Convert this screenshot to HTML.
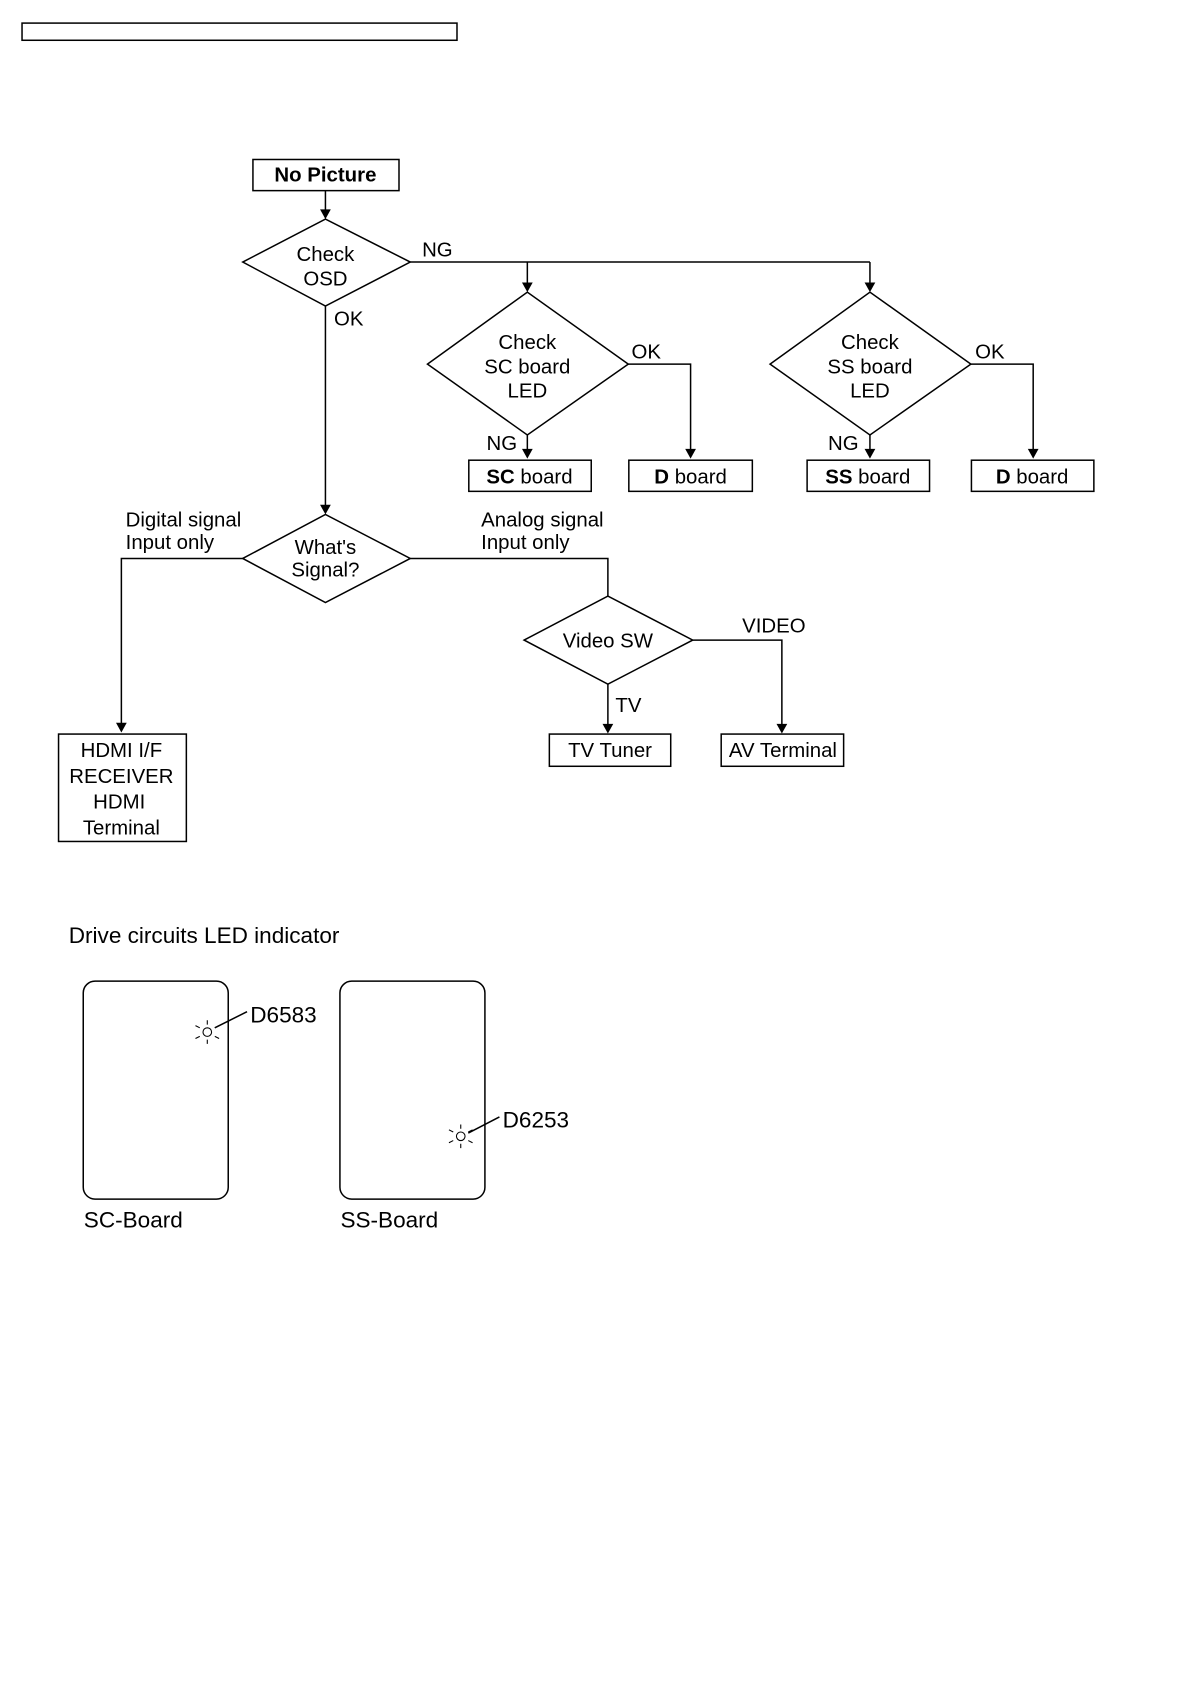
<!DOCTYPE html>
<html><head><meta charset="utf-8"><style>
html,body{margin:0;padding:0;background:#fff;}
svg{display:block;}
text{font-family:"Liberation Sans",Arial,sans-serif;fill:#000;}
</style></head><body>
<svg width="1190" height="1684" viewBox="0 0 1108 1568" xmlns="http://www.w3.org/2000/svg">
<defs><marker id="a" markerWidth="10" markerHeight="10" refX="5" refY="9" orient="auto" markerUnits="userSpaceOnUse"><path d="M0.5,0 L9.5,0 L5,9 Z" fill="#000" transform="rotate(-90 5 5)"/></marker></defs>
<g fill="none" stroke="#000" stroke-width="1.4">
<rect x="20.5" y="21.5" width="405" height="16"/>
<rect x="235.5" y="148.5" width="136" height="29"/>
<polygon points="226,244 303,204 382,244 303,285"/>
<polygon points="398,339 491,272 585,339 491,405"/>
<polygon points="717,339 810,272 904,339 810,405"/>
<rect x="436.5" y="428.5" width="114" height="29"/>
<rect x="585.5" y="428.5" width="115" height="29"/>
<rect x="751.5" y="428.5" width="114" height="29"/>
<rect x="904.5" y="428.5" width="114" height="29"/>
<polygon points="226,520 303,479 382,520 303,561"/>
<polygon points="488,596 566,555 645,596 566,637"/>
<rect x="54.5" y="683.5" width="119" height="100"/>
<rect x="511.5" y="683.5" width="113" height="30"/>
<rect x="671.5" y="683.5" width="114" height="30"/>
<rect x="77.5" y="913.5" width="135" height="203" rx="11"/>
<rect x="316.5" y="913.5" width="135" height="203" rx="11"/>
</g>
<g fill="none" stroke="#000" stroke-width="1.4">
<line x1="303" y1="177" x2="303" y2="196"/>
<polyline points="382,244 810,244"/>
<line x1="491" y1="244" x2="491" y2="264"/>
<line x1="810" y1="244" x2="810" y2="264"/>
<line x1="303" y1="285" x2="303" y2="471"/>
<polyline points="585,339 643,339 643,419"/>
<polyline points="904,339 962,339 962,419"/>
<line x1="491" y1="405" x2="491" y2="419"/>
<line x1="810" y1="405" x2="810" y2="419"/>
<polyline points="226,520 113,520 113,674"/>
<polyline points="382,520 566,520 566,555"/>
<polyline points="645,596 728,596 728,675"/>
<line x1="566" y1="637" x2="566" y2="675"/>
<line x1="200" y1="957" x2="230" y2="942"/>
<line x1="436" y1="1055" x2="465" y2="1040"/>
</g>
<g fill="#000">
<path d="M298,195 L308,195 L303,204 Z"/>
<path d="M486,263 L496,263 L491,272 Z"/>
<path d="M805,263 L815,263 L810,272 Z"/>
<path d="M298,470 L308,470 L303,479 Z"/>
<path d="M638,418 L648,418 L643,427 Z"/>
<path d="M957,418 L967,418 L962,427 Z"/>
<path d="M486,418 L496,418 L491,427 Z"/>
<path d="M805,418 L815,418 L810,427 Z"/>
<path d="M108,673 L118,673 L113,682 Z"/>
<path d="M561,674 L571,674 L566,683 Z"/>
<path d="M723,674 L733,674 L728,683 Z"/>
</g>
<g stroke="#000" stroke-width="1" fill="none">
<circle cx="193" cy="961" r="4"/>
<path d="M193,950 V954 M193,968 V972 M182,955 L186,957 M200,965 L204,967 M182,967 L186,965 M200,957 L204,955"/>
<circle cx="429" cy="1058" r="4"/>
<path d="M429,1047 V1051 M429,1065 V1069 M418,1052 L422,1054 M436,1062 L440,1064 M418,1064 L422,1062 M436,1054 L440,1052"/>
</g>
<g font-size="19">
<text x="303" y="169" text-anchor="middle" font-weight="bold">No Picture</text>
<text x="303" y="243" text-anchor="middle">Check</text>
<text x="303" y="266" text-anchor="middle">OSD</text>
<text x="393" y="239">NG</text>
<text x="311" y="303">OK</text>
<text x="491" y="325" text-anchor="middle">Check</text>
<text x="491" y="348" text-anchor="middle">SC board</text>
<text x="491" y="370" text-anchor="middle">LED</text>
<text x="810" y="325" text-anchor="middle">Check</text>
<text x="810" y="348" text-anchor="middle">SS board</text>
<text x="810" y="370" text-anchor="middle">LED</text>
<text x="588" y="334">OK</text>
<text x="908" y="334">OK</text>
<text x="453" y="419">NG</text>
<text x="771" y="419">NG</text>
<text x="493" y="450" text-anchor="middle"><tspan font-weight="bold">SC</tspan> board</text>
<text x="643" y="450" text-anchor="middle"><tspan font-weight="bold">D</tspan> board</text>
<text x="808" y="450" text-anchor="middle"><tspan font-weight="bold">SS</tspan> board</text>
<text x="961" y="450" text-anchor="middle"><tspan font-weight="bold">D</tspan> board</text>
<text x="117" y="490">Digital signal</text>
<text x="117" y="511">Input only</text>
<text x="448" y="490">Analog signal</text>
<text x="448" y="511">Input only</text>
<text x="303" y="516" text-anchor="middle">What's</text>
<text x="303" y="537" text-anchor="middle">Signal?</text>
<text x="566" y="603" text-anchor="middle">Video SW</text>
<text x="691" y="589">VIDEO</text>
<text x="573" y="663">TV</text>
<text x="113" y="705" text-anchor="middle">HDMI I/F</text>
<text x="113" y="729" text-anchor="middle">RECEIVER</text>
<text x="111" y="753" text-anchor="middle">HDMI</text>
<text x="113" y="777" text-anchor="middle">Terminal</text>
<text x="568" y="705" text-anchor="middle">TV Tuner</text>
<text x="729" y="705" text-anchor="middle">AV Terminal</text>
</g>
<g font-size="21">
<text x="64" y="878">Drive circuits LED indicator</text>
<text x="233" y="952">D6583</text>
<text x="468" y="1050">D6253</text>
<text x="78" y="1143">SC-Board</text>
<text x="317" y="1143">SS-Board</text>
</g>
</svg>
</body></html>
